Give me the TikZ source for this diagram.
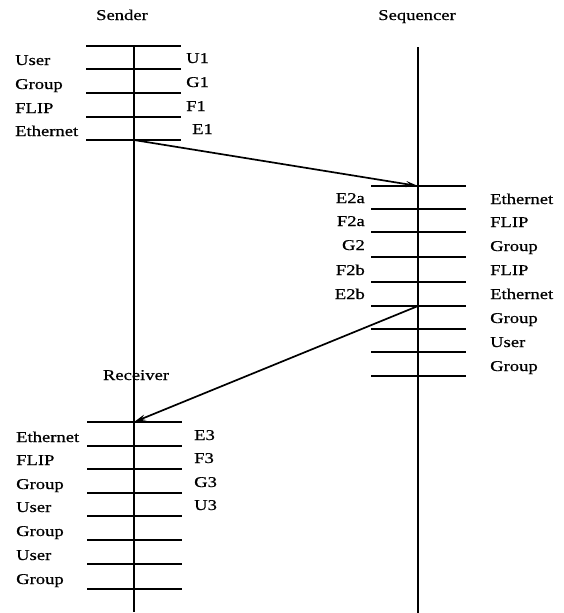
\documentclass[tikz,border=0pt]{standalone}
\usepackage{fontspec}
\setmainfont{Liberation Serif}[FakeStretch=1.24,FakeBold=0.6]
\usetikzlibrary{arrows.meta}
\begin{document}
\begin{tikzpicture}[x=1pt,y=-1pt,
  lbl/.style={inner sep=0pt,font=\fontsize{15}{18}\selectfont},
  lw/.style={lbl,anchor=base west},
  le/.style={lbl,anchor=base east},
  ttl/.style={lbl,anchor=base},
  life/.style={line width=1.1pt},
  layer/.style={line width=1.4pt},
  msg/.style={line width=1.7pt,-{Stealth[length=12pt,width=6pt]}}]
\useasboundingbox (0,0) rectangle (564,613);
% titles
\node[ttl] (tS) at (122,20) {Sender};
\node[ttl] (tQ) at (417,20) {Sequencer};
\node[ttl] (tR) at (136,380) {Receiver};
% lifelines
\coordinate (sTop) at (134,46);
\coordinate (sBot) at (134,612);
\coordinate (qTop) at (418,47);
\coordinate (qBot) at (418,613);
\draw[life] (sTop) -- (sBot);
\draw[life] (qTop) -- (qBot);
% sender layers
\foreach \y [count=\i] in {46,69,93,117,140}{
  \coordinate (sa\i) at (86,\y);
  \coordinate (sb\i) at (181,\y);
  \draw[layer] (sa\i) -- (sb\i);
}
\coordinate (sE) at (134,140);
\node[lw] (sl1) at (15,65) {User};
\node[lw] (sl2) at (15,89) {Group};
\node[lw] (sl3) at (15,113) {FLIP};
\node[lw] (sl4) at (15,136) {Ethernet};
\node[lw] (sr1) at (186,63) {U1};
\node[lw] (sr2) at (186,87) {G1};
\node[lw] (sr3) at (186,111) {F1};
\node[lw] (sr4) at (192,134) {E1};
% sequencer layers
\foreach \y [count=\i] in {186,209,232,257,282,306,329,352,376}{
  \coordinate (qa\i) at (371,\y);
  \coordinate (qb\i) at (466,\y);
  \draw[layer] (qa\i) -- (qb\i);
}
\coordinate (qIn) at (418,186);
\coordinate (qOut) at (418,306);
\node[le] (ql1) at (365,203) {E2a};
\node[le] (ql2) at (365,226) {F2a};
\node[le] (ql3) at (365,250) {G2};
\node[le] (ql4) at (365,275) {F2b};
\node[le] (ql5) at (365,299) {E2b};
\node[lw] (qr1) at (490,204) {Ethernet};
\node[lw] (qr2) at (490,227) {FLIP};
\node[lw] (qr3) at (490,251) {Group};
\node[lw] (qr4) at (490,275) {FLIP};
\node[lw] (qr5) at (490,299) {Ethernet};
\node[lw] (qr6) at (490,323) {Group};
\node[lw] (qr7) at (490,347) {User};
\node[lw] (qr8) at (490,371) {Group};
% receiver layers
\foreach \y [count=\i] in {422,446,469,493,516,540,564,589}{
  \coordinate (ra\i) at (87,\y);
  \coordinate (rb\i) at (182,\y);
  \draw[layer] (ra\i) -- (rb\i);
}
\coordinate (rIn) at (134,422);
\node[lw] (rl1) at (16,442) {Ethernet};
\node[lw] (rl2) at (16,465) {FLIP};
\node[lw] (rl3) at (16,489) {Group};
\node[lw] (rl4) at (16,512) {User};
\node[lw] (rl5) at (16,536) {Group};
\node[lw] (rl6) at (16,560) {User};
\node[lw] (rl7) at (16,584) {Group};
\node[lw] (rr1) at (194,440) {E3};
\node[lw] (rr2) at (194,463) {F3};
\node[lw] (rr3) at (194,487) {G3};
\node[lw] (rr4) at (194,510) {U3};
% messages
\draw[msg] (sE) -- (qIn);
\draw[msg] (qOut) -- (rIn);
\end{tikzpicture}
\end{document}
